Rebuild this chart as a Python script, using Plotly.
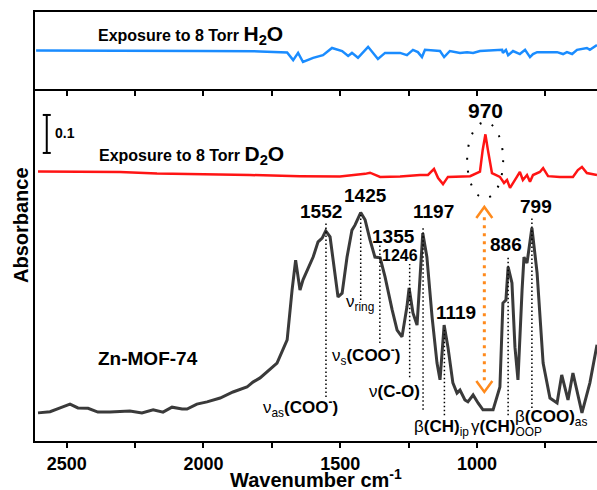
import plotly.graph_objects as go

# ---------------- data (wavenumber cm-1, absorbance a.u.) ----------------
black_wn = [2605, 2561, 2524, 2488, 2459, 2422, 2386, 2342, 2269, 2225, 2184, 2148, 2115, 2078, 2060,
            2024, 1987, 1939, 1892, 1841, 1819, 1793, 1731, 1694, 1676, 1663, 1647, 1636, 1599, 1581,
            1566, 1553, 1537, 1519, 1508, 1493, 1475, 1457, 1446, 1425, 1409, 1391, 1373, 1354, 1336,
            1310, 1292, 1274, 1256, 1248, 1234, 1219, 1208, 1198, 1183, 1164, 1146, 1135, 1120, 1106,
            1088, 1073, 1062, 1044, 1033, 1014, 996, 978, 941, 916, 905, 894, 886, 872, 861,
            850, 835, 828, 817, 799, 780, 758, 733, 707, 690, 667, 649, 616, 587, 568, 561]
black_abs = [0.074, 0.077, 0.087, 0.097, 0.087, 0.086, 0.076, 0.076, 0.079, 0.074, 0.082, 0.076, 0.089, 0.084, 0.084,
             0.097, 0.103, 0.113, 0.129, 0.142, 0.155, 0.166, 0.205, 0.266, 0.397, 0.476, 0.397, 0.424, 0.484, 0.524,
             0.534, 0.553, 0.537, 0.432, 0.379, 0.389, 0.484, 0.555, 0.568, 0.601, 0.582, 0.529, 0.484, 0.482, 0.432,
             0.345, 0.292, 0.274, 0.353, 0.403, 0.337, 0.305, 0.442, 0.547, 0.484, 0.326, 0.205, 0.161, 0.305, 0.247,
             0.153, 0.126, 0.134, 0.108, 0.103, 0.121, 0.100, 0.082, 0.082, 0.142, 0.363, 0.371, 0.458, 0.416, 0.247,
             0.161, 0.397, 0.484, 0.468, 0.561, 0.442, 0.205, 0.113, 0.100, 0.174, 0.108, 0.179, 0.074, 0.153, 0.232, 0.253]

red_wn = [2605, 2451, 2305, 2170, 2012, 1830, 1647, 1501, 1409, 1391, 1354, 1281, 1208, 1179, 1157,
          1142, 1124, 1106, 1025, 989, 979, 969, 960, 945, 916, 901, 890, 879, 854, 843,
          832, 817, 806, 795, 770, 758, 740, 697, 649, 631, 616, 598, 561]
red_abs = [0.709, 0.709, 0.708, 0.704, 0.703, 0.700, 0.697, 0.696, 0.703, 0.706, 0.695, 0.696, 0.700, 0.700, 0.716,
           0.692, 0.676, 0.695, 0.697, 0.709, 0.766, 0.807, 0.766, 0.705, 0.695, 0.679, 0.687, 0.666, 0.695, 0.708,
           0.687, 0.700, 0.682, 0.700, 0.708, 0.718, 0.697, 0.695, 0.695, 0.713, 0.721, 0.705, 0.700]

blue_wn = [2612, 2378, 2012, 1793, 1694, 1672, 1654, 1636, 1599, 1563, 1530, 1493, 1471, 1457, 1435,
           1398, 1362, 1336, 1281, 1256, 1234, 1216, 1201, 1190, 1135, 1120, 1099, 1062, 1036, 1014,
           989, 908, 905, 894, 886, 868, 843, 824, 806, 795, 780, 707, 685, 671, 652,
           634, 598, 587, 561]
blue_abs = [0.101, 0.101, 0.100, 0.099, 0.096, 0.076, 0.095, 0.071, 0.082, 0.089, 0.108, 0.100, 0.087, 0.095, 0.082,
            0.111, 0.079, 0.095, 0.095, 0.089, 0.103, 0.097, 0.084, 0.103, 0.100, 0.084, 0.100, 0.095, 0.097, 0.095,
            0.100, 0.103, 0.095, 0.103, 0.089, 0.100, 0.092, 0.103, 0.084, 0.092, 0.097, 0.097, 0.092, 0.097, 0.092,
            0.103, 0.108, 0.103, 0.116]

peak_wn = [1552, 1425, 1355, 1246, 1197, 1119, 886, 799]
d2o_peak = 970
x_ticks = [2500, 2250, 2000, 1750, 1500, 1250, 1000, 750]
x_tick_text = ["2500", "", "2000", "", "1500", "", "1000", ""]

# ---------------- layout helpers ----------------
FONT = "Arial, Liberation Sans, sans-serif"
BLACK = "#000000"

# label placement for each peak: (label y, x pixel shift, font size, line top, line bottom)
peak_layout = {
    1552: (0.603, -5, 19, 0.574, 0.116),
    1425: (0.645, 5, 19, 0.595, 0.371),
    1355: (0.537, 14, 19, 0.521, 0.258),
    1246: (0.487, -10, 16, 0.466, 0.168),
    1197: (0.603, 10, 19, 0.561, 0.082),
    1119: (0.337, 12, 19, 0.292, 0.068),
    886: (0.516, -2, 19, 0.482, 0.068),
    799: (0.616, 4, 19, 0.589, 0.087),
}

fig = go.Figure()
fig.add_trace(go.Scatter(x=black_wn, y=black_abs, mode="lines", xaxis="x", yaxis="y",
                         line=dict(color="#3a3a3a", width=3), showlegend=False, hoverinfo="skip"))
fig.add_trace(go.Scatter(x=red_wn, y=red_abs, mode="lines", xaxis="x", yaxis="y",
                         line=dict(color="#ff1414", width=2.5), showlegend=False, hoverinfo="skip"))
fig.add_trace(go.Scatter(x=blue_wn, y=blue_abs, mode="lines", xaxis="x2", yaxis="y2",
                         line=dict(color="#1a8cff", width=2.5), showlegend=False, hoverinfo="skip"))

annotations = []
shapes = []

for p, txt in zip(peak_wn, [str(v) for v in peak_wn]):
    ly, sh, fs, yt, yb = peak_layout[p]
    annotations.append(dict(x=p, y=ly, xref="x", yref="y", text=f"<b>{txt}</b>", showarrow=False,
                            xshift=sh, font=dict(family=FONT, size=fs, color=BLACK)))
    shapes.append(dict(type="line", xref="x", yref="y", x0=p, x1=p, y0=yb, y1=yt,
                       line=dict(color=BLACK, width=1.5, dash="1.5px,2.5px")))

# 970 label and dotted ellipse
annotations.append(dict(x=d2o_peak, y=0.871, xref="x", yref="y", text=f"<b>{d2o_peak}</b>", showarrow=False,
                        font=dict(family=FONT, size=21, color=BLACK)))
shapes.append(dict(type="circle", xref="x", yref="y", xsizemode="pixel", ysizemode="pixel",
                   xanchor=d2o_peak, yanchor=0.739, x0=-18, x1=18, y0=-38, y1=38,
                   line=dict(color=BLACK, width=2, dash="2px,11px")))

# orange dotted double arrow
ORANGE = "#ff8a1c"
arrow_x = 973
shapes.append(dict(type="line", xref="x", yref="y", x0=arrow_x, x1=arrow_x, y0=0.16, y1=0.59,
                   line=dict(color=ORANGE, width=3, dash="3px,5px")))
shapes.append(dict(type="path", xref="x", yref="y", xsizemode="pixel", ysizemode="pixel",
                   xanchor=arrow_x, yanchor=0.616, path="M-8,-11 L0,0 L8,-11",
                   line=dict(color=ORANGE, width=2.5)))
shapes.append(dict(type="path", xref="x", yref="y", xsizemode="pixel", ysizemode="pixel",
                   xanchor=arrow_x, yanchor=0.129, path="M-8,11 L0,0 L8,11",
                   line=dict(color=ORANGE, width=2.5)))

# scale bar 0.1
sb_x = 2573
shapes.append(dict(type="line", xref="x", yref="y", x0=sb_x, x1=sb_x, y0=0.758, y1=0.858,
                   line=dict(color=BLACK, width=2)))
for yy in (0.758, 0.858):
    shapes.append(dict(type="line", xref="x", yref="y", xsizemode="pixel", xanchor=sb_x,
                       x0=-4, x1=4, y0=yy, y1=yy, line=dict(color=BLACK, width=2)))
annotations.append(dict(x=2550, y=0.811, xref="x", yref="y", text="<b>0.1</b>", showarrow=False,
                        xanchor="left", font=dict(family=FONT, size=14, color=BLACK)))

# series labels
annotations.append(dict(x=2393, y=0.142, xref="x2", yref="y2", xanchor="left",
                        text='<b>Exposure to 8 Torr <span style="font-size:21px">H<sub>2</sub>O</span></b>',
                        showarrow=False, font=dict(family=FONT, size=16, color=BLACK)))
annotations.append(dict(x=2389, y=0.753, xref="x", yref="y", xanchor="left",
                        text='<b>Exposure to 8 Torr <span style="font-size:21px">D<sub>2</sub>O</span></b>',
                        showarrow=False, font=dict(family=FONT, size=16, color=BLACK)))
annotations.append(dict(x=2202, y=0.218, xref="x", yref="y", text="<b>Zn-MOF-74</b>", showarrow=False,
                        font=dict(family=FONT, size=19, color=BLACK)))

# band assignments
band_labels = [
    (1647, 0.087, "ν<sub>as</sub><b>(COO<sup>-</sup>)</b>"),
    (1427, 0.363, "ν<sub>ring</sub>"),
    (1406, 0.226, "ν<sub>s</sub><b>(COO<sup>-</sup>)</b>"),
    (1300, 0.129, "ν<b>(C-O)</b>"),
    (1131, 0.034, "β<b>(CH)</b><sub>ip</sub>"),
    (893, 0.034, "γ<b>(CH)</b><sub>OOP</sub>"),
    (728, 0.061, "β<b>(COO)</b><sub>as</sub>"),
]
for bx, by, bt in band_labels:
    annotations.append(dict(x=bx, y=by, xref="x", yref="y", text=bt, showarrow=False,
                            font=dict(family=FONT, size=17, color=BLACK)))

# axis titles
annotations.append(dict(x=-14 / 562, y=0.5035, xref="paper", yref="paper", xanchor="center", yanchor="middle",
                        text="<b>Absorbance</b>", textangle=-90, showarrow=False,
                        font=dict(family=FONT, size=20, color=BLACK)))
annotations.append(dict(x=0.5, y=-37 / 429, xref="paper", yref="paper", yanchor="middle",
                        text="<b>Wavenumber cm<sup>-1</sup></b>", showarrow=False,
                        font=dict(family=FONT, size=20, color=BLACK)))

split = 0.8205
fig.update_layout(
    width=597, height=490,
    margin=dict(l=35, r=0, t=12, b=49, autoexpand=False),
    plot_bgcolor="white", paper_bgcolor="white",
    showlegend=False,
    xaxis=dict(domain=[0, 1], anchor="y", range=[2616, 561], showline=True, linecolor=BLACK, linewidth=2,
               ticks="outside", ticklen=5, tickwidth=1.5, tickcolor=BLACK, automargin=False,
               tickvals=x_ticks, ticktext=[f"<b>{t}</b>" if t else "" for t in x_tick_text],
               tickfont=dict(family=FONT, size=18, color=BLACK), showgrid=False, zeroline=False),
    xaxis2=dict(domain=[0, 1], anchor="y2", range=[2616, 561], showline=True, mirror=True, linecolor=BLACK,
                linewidth=1.5, ticks="outside", ticklen=5, tickwidth=1.5, tickcolor=BLACK, automargin=False,
                tickvals=x_ticks, showticklabels=False, showgrid=False, zeroline=False),
    yaxis=dict(domain=[0, split], anchor="x", range=[0, 0.9263], showline=True, linecolor=BLACK, linewidth=2,
               ticks="", showticklabels=False, showgrid=False, zeroline=False, automargin=False),
    yaxis2=dict(domain=[split, 1], anchor="x2", range=[0, 0.2026], showline=True, linecolor=BLACK,
                linewidth=1.5, ticks="", showticklabels=False, showgrid=False, zeroline=False, automargin=False),
    annotations=annotations,
    shapes=shapes,
)

fig.write_html("out.html", config={"displayModeBar": False},
               post_script="document.body.style.margin='0';document.body.style.padding='0';")
